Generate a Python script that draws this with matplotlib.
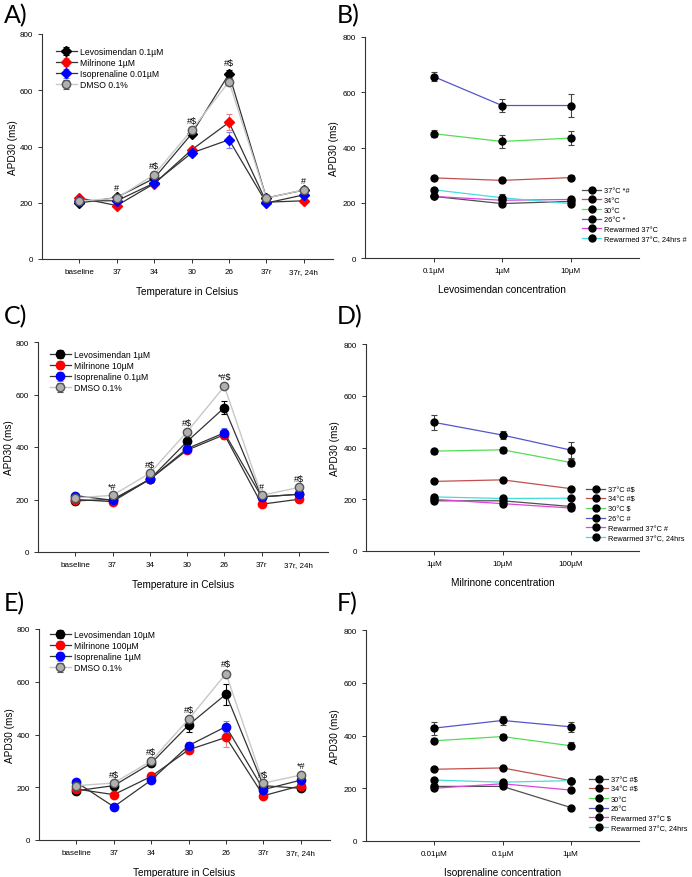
import matplotlib
matplotlib.use("Agg")
import matplotlib.pyplot as plt
import numpy as np

plt.rcParams['font.family'] = ['Liberation Sans', 'DejaVu Sans']

# ---------------- data ----------------
temps = ["baseline", "37", "34", "30", "26", "37r", "37r, 24h"]

dmso = [206, 216, 300, 458, 631, 216, 246]
dmso_err = [6, 5, 6, 8, 10, 5, 6]

# Panel A
levo_A = [199, 219, 287, 445, 658, 217, 245]
levo_A_err = [5, 6, 6, 8, 14, 5, 6]
milr_A = [217, 190, 268, 388, 486, 202, 207]
milr_A_err = [6, 5, 6, 12, 28, 5, 6]
iso_A = [207, 207, 270, 377, 424, 199, 228]
iso_A_err = [6, 6, 6, 12, 28, 5, 6]
annot_A = ["", "#", "#$", "#$", "#$", "", "#"]

# Panel C
levo_C = [195, 200, 277, 421, 550, 210, 220]
levo_C_err = [6, 5, 6, 15, 25, 6, 6]
milr_C = [200, 192, 277, 388, 447, 182, 201]
milr_C_err = [5, 5, 6, 10, 15, 5, 6]
iso_C = [215, 197, 277, 394, 454, 210, 220]
iso_C_err = [6, 5, 6, 10, 18, 5, 6]
annot_C = ["", "*#", "#$", "#$", "*#$", "#", "#$"]

# Panel E
levo_E = [187, 206, 291, 436, 553, 206, 196]
levo_E_err = [6, 6, 6, 28, 40, 6, 6]
milr_E = [193, 172, 241, 342, 389, 168, 206]
milr_E_err = [6, 6, 6, 12, 35, 10, 6]
iso_E = [219, 126, 227, 358, 430, 191, 227]
iso_E_err = [6, 5, 6, 12, 22, 6, 6]
annot_E = ["", "#$", "#$", "#$", "#$", "#$", "*#"]

# Panel B (levosimendan concentration)
conc_B = ["0.1µM", "1µM", "10µM"]
B_37 = [223, 197, 205]; B_37_err = [5, 6, 8]
B_34 = [290, 281, 291]; B_34_err = [8, 6, 10]
B_30 = [450, 422, 434]; B_30_err = [13, 22, 25]
B_26 = [657, 552, 552]; B_26_err = [15, 25, 40]
B_rw = [223, 209, 212]; B_rw_err = [5, 5, 6]
B_24 = [247, 218, 197]; B_24_err = [5, 15, 10]
labels_B = ["37°C *#", "34°C", "30°C", "26°C *", "Rewarmed 37°C", "Rewarmed 37°C, 24hrs #"]

# Panel D (milrinone concentration)
conc_D = ["1µM", "10µM", "100µM"]
D_37 = [194, 194, 172]; D_37_err = [5, 6, 6]
D_34 = [269, 275, 241]; D_34_err = [6, 8, 8]
D_30 = [386, 391, 342]; D_30_err = [10, 12, 15]
D_26 = [497, 448, 390]; D_26_err = [28, 15, 32]
D_rw = [200, 183, 166]; D_rw_err = [5, 6, 6]
D_24 = [209, 203, 204]; D_24_err = [6, 6, 5]
labels_D = ["37°C #$", "34°C #$", "30°C $", "26°C #", "Rewarmed 37°C #", "Rewarmed 37°C, 24hrs"]

# Panel F (isoprenaline concentration)
conc_F = ["0.01µM", "0.1µM", "1µM"]
F_37 = [207, 207, 127]; F_37_err = [5, 5, 5]
F_34 = [272, 277, 229]; F_34_err = [6, 6, 6]
F_30 = [380, 396, 361]; F_30_err = [10, 10, 13]
F_26 = [428, 457, 433]; F_26_err = [25, 18, 20]
F_rw = [200, 217, 193]; F_rw_err = [5, 6, 6]
F_24 = [231, 223, 229]; F_24_err = [6, 6, 6]
labels_F = ["37°C #$", "34°C #$", "30°C", "26°C", "Rewarmed 37°C $", "Rewarmed 37°C, 24hrs"]

# ---------------- figure ----------------
W, H = 692, 878
fig = plt.figure(figsize=(W / 100, H / 100), dpi=100)

def make_ax(l, r, t, b):
    return fig.add_axes([l / W, 1 - b / H, (r - l) / W, (b - t) / H])

TICK_FS = 5.8
LAB_FS = 7.2
LEG_FS = 6.2
RLEG_FS = 5.3

def style(ax, pad):
    for s in ["top", "right"]:
        ax.spines[s].set_visible(False)
    for s in ["left", "bottom"]:
        ax.spines[s].set_linewidth(0.8)
        ax.spines[s].set_color("#333333")
    ax.set_ylim(0, 800)
    ax.set_yticks([0, 200, 400, 600, 800])
    ax.tick_params(labelsize=TICK_FS, length=3, width=0.7, colors="#333333", labelcolor="black")
    ax.set_ylabel("APD30 (ms)", fontsize=LAB_FS, labelpad=pad)

def left_panel(ax, series, annot, legend_bbox, marker):
    x = np.arange(len(temps))
    for (vals, errs, label, mfc, mec, lc, ecol, ms, lw, mk) in series:
        ax.errorbar(x, vals, yerr=errs, color=lc, lw=lw, marker=mk or marker, ms=ms,
                    mfc=mfc, mec=mec, ecolor=ecol, elinewidth=0.8, capsize=2.5,
                    capthick=0.8, label=label, zorder=3)
    tops = np.max([np.array(s[0]) + np.array(s[1]) for s in series], axis=0)
    for xi, (txt, tp) in enumerate(zip(annot, tops)):
        if txt:
            ax.text(xi, tp + 12, txt, ha="center", va="bottom", fontsize=6.5)
    ax.set_xlim(-1, 6.78)
    ax.set_xticks(x)
    ax.set_xticklabels(temps)
    ax.set_xlabel("Temperature in Celsius", fontsize=LAB_FS, labelpad=8)
    ax.legend(loc="upper left", bbox_to_anchor=legend_bbox, bbox_transform=fig.transFigure,
              frameon=False, fontsize=LEG_FS, handlelength=2.4, handletextpad=0.4,
              labelspacing=0.25, borderpad=0, borderaxespad=0)

right_colors = ["#505050", "#c05050", "#55dd55", "#5555cc", "#dd44dd", "#44dddd"]

def right_panel(ax, conc, vals_list, err_list, labels, xlabel, legend_bbox):
    x = np.arange(len(conc))
    for vals, errs, lab, c in zip(vals_list, err_list, labels, right_colors):
        ax.plot(x, vals, color=c, lw=0.9, zorder=2)
        ax.errorbar(x, vals, yerr=errs, fmt="none", ecolor="#444444", elinewidth=0.8,
                    capsize=2.5, capthick=0.8, zorder=3)
        ax.plot(x, vals, ls="none", marker="o", ms=5, color="black", zorder=4)
        ax.plot([], [], color=c, lw=0.9, marker="o", ms=5, mfc="black", mec="black", label=lab)
    ax.set_xlim(-1, 3)
    ax.set_xticks(x)
    ax.set_xticklabels(conc)
    ax.set_xlabel(xlabel, fontsize=LAB_FS, labelpad=7)
    ax.legend(loc="upper left", bbox_to_anchor=legend_bbox, bbox_transform=fig.transFigure,
              frameon=False, fontsize=RLEG_FS, handlelength=2.6, handletextpad=0.4,
              labelspacing=0.35, borderpad=0, borderaxespad=0)

DMSO_STYLE = ("#b0b0b0", "#555555", "#c8c8c8", "#555555", 6, 1.0, "o")

# Panel A
axA = make_ax(42, 333, 35, 260)
style(axA, 1.5)
left_panel(axA, [
    (levo_A, levo_A_err, "Levosimendan 0.1µM", "black", "black", "#333333", "black", 5.5, 0.9, None),
    (milr_A, milr_A_err, "Milrinone 1µM", "red", "red", "#333333", "#f08080", 5.5, 0.9, None),
    (iso_A, iso_A_err, "Isoprenaline 0.01µM", "blue", "blue", "#333333", "#8080f0", 5.5, 0.9, None),
    (dmso, dmso_err, "DMSO 0.1%") + DMSO_STYLE,
], annot_A, (56 / W, 1 - 48 / H), "D")

# Panel C
axC = make_ax(38, 328, 343, 553)
style(axC, 1.5)
left_panel(axC, [
    (levo_C, levo_C_err, "Levosimendan 1µM", "black", "black", "#333333", "black", 6, 0.9, None),
    (milr_C, milr_C_err, "Milrinone 10µM", "red", "red", "#333333", "#f08080", 6, 0.9, None),
    (iso_C, iso_C_err, "Isoprenaline 0.1µM", "blue", "blue", "#333333", "#8080f0", 6, 0.9, None),
    (dmso, dmso_err, "DMSO 0.1%") + DMSO_STYLE,
], annot_C, (50 / W, 1 - 351 / H), "o")

# Panel E
axE = make_ax(39, 330, 630, 841)
style(axE, 1.5)
left_panel(axE, [
    (levo_E, levo_E_err, "Levosimendan 10µM", "black", "black", "#333333", "black", 6, 0.9, None),
    (milr_E, milr_E_err, "Milrinone 100µM", "red", "red", "#333333", "#f08080", 6, 0.9, None),
    (iso_E, iso_E_err, "Isoprenaline 1µM", "blue", "blue", "#333333", "#8080f0", 6, 0.9, None),
    (dmso, dmso_err, "DMSO 0.1%") + DMSO_STYLE,
], annot_E, (50 / W, 1 - 631 / H), "o")

# Panel B
axB = make_ax(365, 639, 38, 259)
style(axB, 2.5)
right_panel(axB, conc_B, [B_37, B_34, B_30, B_26, B_rw, B_24],
            [B_37_err, B_34_err, B_30_err, B_26_err, B_rw_err, B_24_err],
            labels_B, "Levosimendan concentration", (582 / W, 1 - 188 / H))

# Panel D
axD = make_ax(366, 639, 345, 552)
style(axD, 2.5)
right_panel(axD, conc_D, [D_37, D_34, D_30, D_26, D_rw, D_24],
            [D_37_err, D_34_err, D_30_err, D_26_err, D_rw_err, D_24_err],
            labels_D, "Milrinone concentration", (586 / W, 1 - 487 / H))

# Panel F
axF = make_ax(366, 639, 631, 842)
style(axF, 2.5)
right_panel(axF, conc_F, [F_37, F_34, F_30, F_26, F_rw, F_24],
            [F_37_err, F_34_err, F_30_err, F_26_err, F_rw_err, F_24_err],
            labels_F, "Isoprenaline concentration", (589 / W, 1 - 777 / H))

# panel letters
for lab, (px, py) in zip(["A)", "B)", "C)", "D)", "E)", "F)"],
                         [(4, 16), (337, 16), (4, 317), (337, 317), (4, 604), (337, 604)]):
    fig.text(px / W, 1 - py / H, lab, fontsize=18, family=["Lato", "DejaVu Sans"],
             ha="left", va="center")

fig.savefig("out.png", dpi=100)
